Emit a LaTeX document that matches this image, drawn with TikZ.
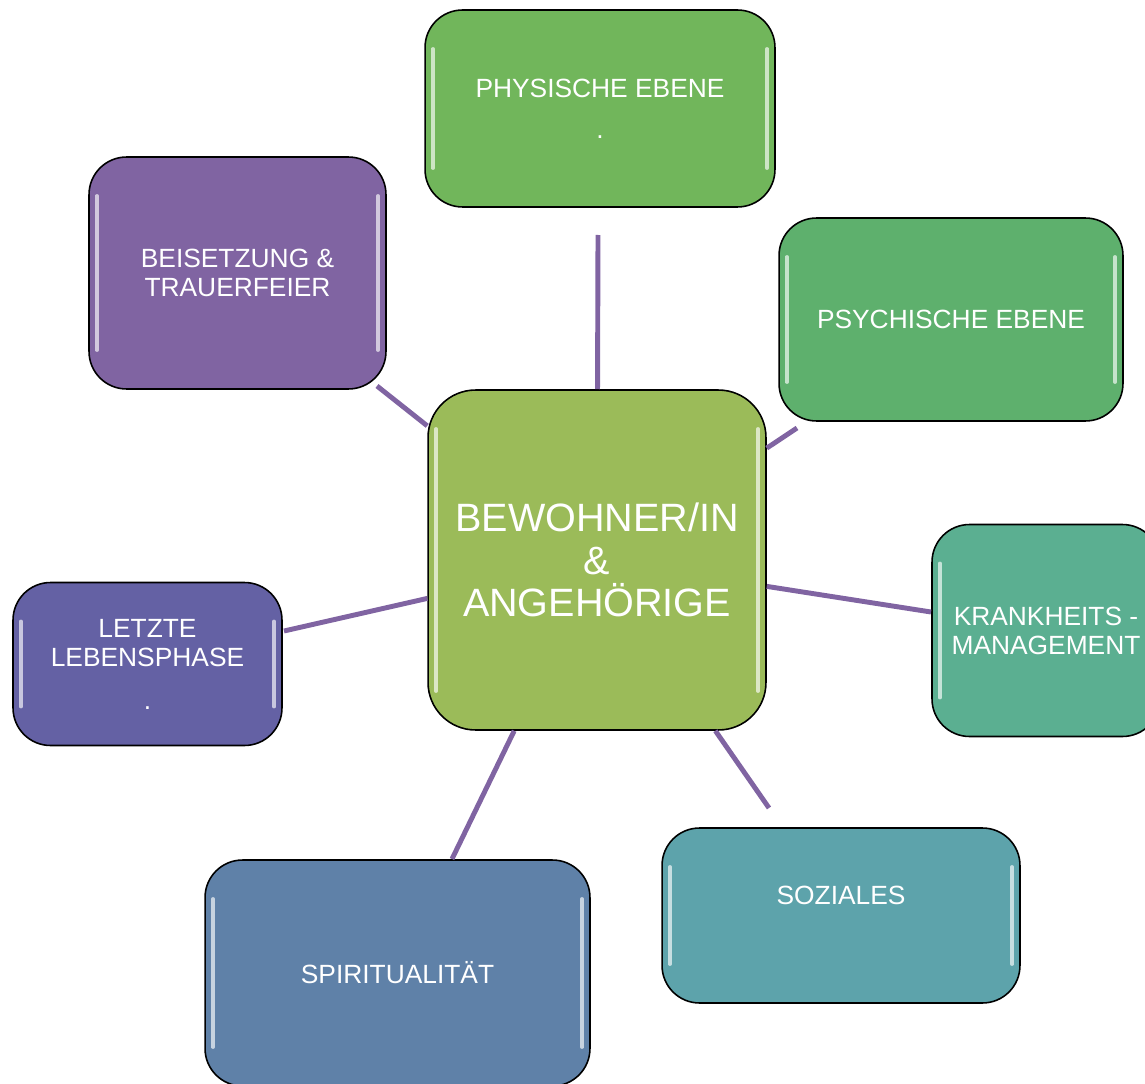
\documentclass[tikz,border=0pt]{standalone}
\usepackage{fontspec}
\setmainfont{Liberation Sans}
\usetikzlibrary{calc}
\definecolor{hubgreen}{HTML}{9BBB59}
\definecolor{physgreen}{HTML}{71B65B}
\definecolor{psygreen}{HTML}{5EB06D}
\definecolor{krankteal}{HTML}{5BAF91}
\definecolor{sozteal}{HTML}{5DA3AB}
\definecolor{spiritblue}{HTML}{5F81A8}
\definecolor{lebindigo}{HTML}{6461A4}
\definecolor{beispurple}{HTML}{8064A2}
\definecolor{linkpurple}{HTML}{8064A2}

\begin{document}
\begin{tikzpicture}[x=0.02cm, y=-0.02cm,
      tile/.style={draw=black, line width=0.9pt, rounded corners=0.75cm,
                   inner sep=2pt, align=center, text=white,
                   font=\fontsize{15}{16.5}\selectfont,
                   path picture={
                     \draw[white, opacity=0.65, line width=1.8pt, line cap=round]
                       ($(path picture bounding box.north west)+(4.5pt,-22pt)$) --
                       ($(path picture bounding box.south west)+(4.5pt,22pt)$);
                     \draw[white, opacity=0.65, line width=1.8pt, line cap=round]
                       ($(path picture bounding box.north east)+(-4.5pt,-22pt)$) --
                       ($(path picture bounding box.south east)+(-4.5pt,22pt)$);
                   }},
      hub/.style={tile, rounded corners=0.95cm, font=\fontsize{22.5}{24}\selectfont},
      link/.style={line width=2.8pt, linkpurple}
    ]
      \useasboundingbox (0,0) rectangle (1145,1084);

      % centre
      \node[hub, fill=hubgreen, minimum width=6.76cm, minimum height=6.8cm] (hub) at (597,560)
        {BEWOHNER/IN\\\&\\ANGEHÖRIGE};

      % outer tiles
      \node[tile, fill=physgreen, minimum width=7cm, minimum height=3.94cm] (phys) at (600,108.5)
        {PHYSISCHE EBENE\\[7pt].};
      \node[tile, fill=psygreen, minimum width=6.88cm, minimum height=4.06cm] (psych) at (951,319.5)
        {PSYCHISCHE EBENE};
      \node[tile, fill=krankteal, minimum width=4.56cm, minimum height=4.24cm] (krank) at (1046,630.5)
        {KRANKHEITS -\\MANAGEMENT};
      \node[tile, fill=sozteal, minimum width=7.16cm, minimum height=3.5cm] (soz) at (841,915.5)
        {SOZIALES\\[6pt]\mbox{}};
      \node[tile, fill=spiritblue, minimum width=7.7cm, minimum height=4.52cm] (spirit) at (397.5,973)
        {SPIRITUALITÄT};
      \node[tile, fill=lebindigo, minimum width=5.38cm, minimum height=3.26cm] (letzte) at (147.5,664)
        {LETZTE\\LEBENSPHASE\\[8pt].};
      \node[tile, fill=beispurple, minimum width=5.94cm, minimum height=4.64cm] (beis) at (237.5,273)
        {BEISETZUNG \&\\TRAUERFEIER};

      % connector ends
      \coordinate (physEnd) at (598,235);
      \coordinate (psychEnd) at (797,428);
      \coordinate (krankEnd) at (931,612);
      \coordinate (sozEnd) at (769,808);
      \coordinate (spiritEnd) at (452,859);
      \coordinate (letzteEnd) at (284,631);
      \coordinate (beisEnd) at (377,386);

      \draw[link] (hub) -- (physEnd);
      \draw[link] (hub) -- (psychEnd);
      \draw[link] (hub) -- (krankEnd);
      \draw[link] (hub) -- (sozEnd);
      \draw[link] (hub) -- (spiritEnd);
      \draw[link] (hub) -- (letzteEnd);
      \draw[link] (hub) -- (beisEnd);
    \end{tikzpicture}
\end{document}
